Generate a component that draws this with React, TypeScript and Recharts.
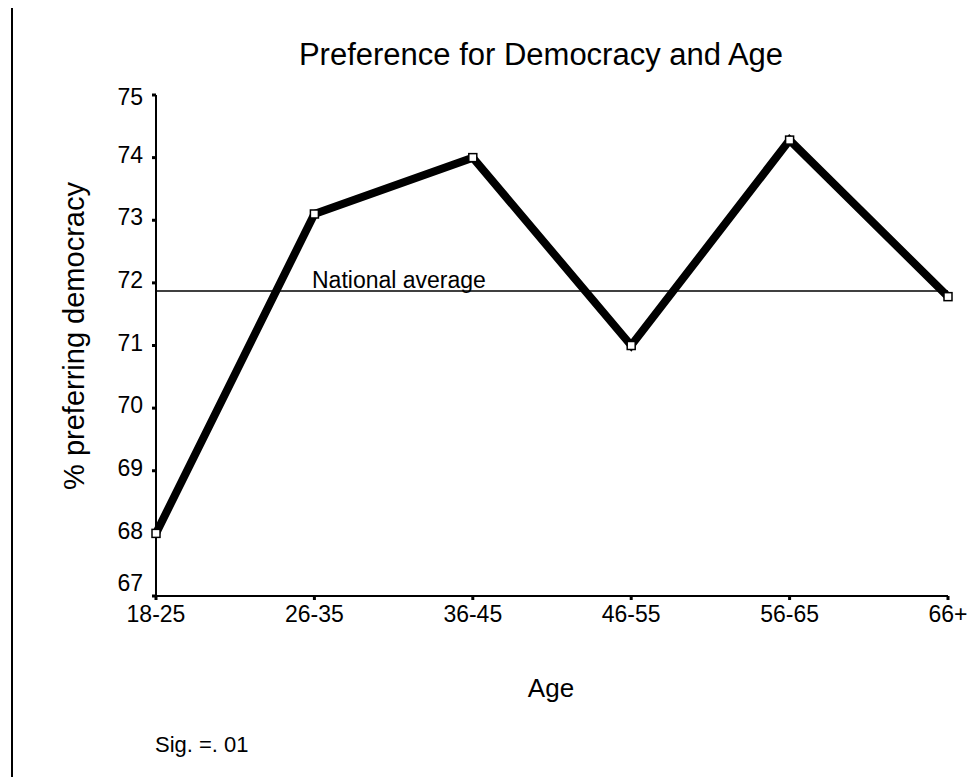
import { LineChart, Line, XAxis, YAxis, ReferenceLine } from 'recharts';

const ageGroups = ['18-25', '26-35', '36-45', '46-55', '56-65', '66+'];
const preferringDemocracy = [68.0, 73.1, 74.0, 71.0, 74.28, 71.78];
const nationalAverage = 71.87;
const yTicks = [67, 68, 69, 70, 71, 72, 73, 74, 75];

const FONT = '"Liberation Sans", Arial, sans-serif';

const chartData = ageGroups.map((age, i) => ({ age, pct: preferringDemocracy[i] }));

function SquareDot(props: any) {
  const { cx, cy } = props;
  if (cx == null || cy == null) return null;
  return <rect x={cx - 4} y={cy - 4} width={8} height={8} fill="#fff" stroke="#000" strokeWidth={1.5} />;
}

// the bottom label sits a little higher so it clears the x tick labels
function YTick(props: any) {
  const { x, y, payload } = props;
  const lift = payload.value === 67 ? -13 : payload.value === 75 ? 2 : -3;
  return (
    <text x={x} y={y + lift} dy="0.355em" textAnchor="end" fontSize={23} fontFamily={FONT} fill="#000">
      {payload.value}
    </text>
  );
}

function AverageLabel(props: any) {
  const { viewBox } = props;
  return (
    <text x={viewBox.x + 156} y={viewBox.y - 3} fontSize={23} fontFamily={FONT} fill="#000">
      National average
    </text>
  );
}

const textStyle = { position: 'absolute' as const, fontFamily: FONT, color: '#000', whiteSpace: 'nowrap' as const, lineHeight: 1 };

export default function App() {
  return (
    <div style={{ position: 'absolute', left: 0, top: 0, width: 977, height: 777, background: '#fff', overflow: 'hidden' }}>
      <div style={{ position: 'absolute', left: 11, top: 8, width: 2, height: 769, background: '#000' }} />
      <div style={{ ...textStyle, left: 0, width: 1082, top: 39, fontSize: 31, textAlign: 'center' }}>
        Preference for Democracy and Age
      </div>
      <div
        style={{
          ...textStyle,
          left: 75 - 200,
          top: 336 - 15,
          width: 400,
          height: 30,
          fontSize: 29,
          textAlign: 'center',
          transform: 'rotate(-90deg)',
        }}
      >
        % preferring democracy
      </div>
      <div style={{ ...textStyle, left: 451, width: 200, top: 675, fontSize: 26, textAlign: 'center' }}>Age</div>
      <div style={{ ...textStyle, left: 155, top: 734, fontSize: 22 }}>Sig. =. 01</div>
      <LineChart
        width={977}
        height={777}
        data={chartData}
        margin={{ top: 95, right: 29, bottom: 141, left: 80 }}
        style={{ position: 'absolute', left: 0, top: 0 }}
      >
        <XAxis
          dataKey="age"
          axisLine={{ stroke: '#000', strokeWidth: 2 }}
          tickLine={{ stroke: '#000', strokeWidth: 3 }}
          tickSize={4}
          tickMargin={6}
          height={40}
          tick={{ fontSize: 23, fill: '#000', fontFamily: FONT }}
          interval={0}
        />
        <YAxis
          domain={[67, 75]}
          ticks={yTicks}
          width={76}
          axisLine={{ stroke: '#000', strokeWidth: 2 }}
          tickLine={{ stroke: '#000', strokeWidth: 3 }}
          tickSize={4}
          tickMargin={9}
          tick={<YTick />}
        />
        <ReferenceLine y={nationalAverage} stroke="#000" strokeWidth={1.5} label={<AverageLabel />} />
        <Line
          type="linear"
          dataKey="pct"
          stroke="#000"
          strokeWidth={8}
          dot={<SquareDot />}
          activeDot={false}
          isAnimationActive={false}
        />
      </LineChart>
    </div>
  );
}
